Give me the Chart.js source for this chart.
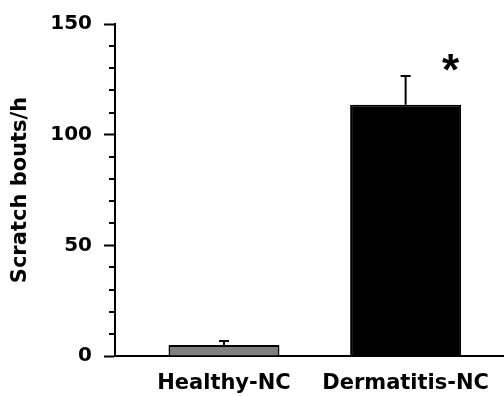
<!DOCTYPE html>
<html>
<head>
<meta charset="utf-8">
<script src="https://cdn.jsdelivr.net/npm/chart.js@4.4.1/dist/chart.umd.min.js"></script>
<style>
  html, body { margin: 0; padding: 0; background: #fff; }
  #wrap { width: 504px; height: 396px; }
</style>
</head>
<body>
<div id="wrap"><canvas id="chartCanvas" width="504" height="396"></canvas></div>
<script>
// values
const categories = ["Healthy-NC", "Dermatitis-NC"];
const meanValues = [5, 113.5];
const errorTops = [6.8, 126.5];
const barColors = ["#808080", "#000000"];
const signif = ["", "*"];
const yMajorTicks = [0, 50, 100, 150];
const yMinorTicks = [10, 20, 30, 40, 60, 70, 80, 90, 110, 120, 130, 140];

const FONT = "'DejaVu Sans', sans-serif";

// error bars, minor ticks and the asterisk
const extras = {
  id: "extras",
  afterDatasetsDraw(chart) {
    const ctx = chart.ctx;
    const y = chart.scales.y;
    const meta = chart.getDatasetMeta(0);
    ctx.save();
    ctx.strokeStyle = "#000";
    ctx.lineWidth = 2;
    meta.data.forEach((bar, i) => {
      const top = y.getPixelForValue(errorTops[i]);
      ctx.beginPath();
      ctx.moveTo(bar.x, bar.y);
      ctx.lineTo(bar.x, top);
      ctx.moveTo(bar.x - 5, top);
      ctx.lineTo(bar.x + 5, top);
      ctx.stroke();
      if (signif[i]) {
        ctx.fillStyle = "#000";
        ctx.font = "bold 44px 'Liberation Sans', Arial, sans-serif";
        ctx.textAlign = "center";
        ctx.textBaseline = "middle";
        ctx.fillText(signif[i], bar.x + 45, top - 3);
      }
    });
    // minor ticks on y axis
    const left = chart.chartArea.left;
    yMinorTicks.forEach(v => {
      const py = Math.round(y.getPixelForValue(v));
      ctx.beginPath();
      ctx.moveTo(left - 6, py);
      ctx.lineTo(left, py);
      ctx.stroke();
    });
    ctx.restore();
  }
};

new Chart(document.getElementById("chartCanvas"), {
  type: "bar",
  data: {
    datasets: [{
      data: categories.map((c, i) => ({ x: i, y: meanValues[i] })),
      backgroundColor: barColors,
      borderColor: "#000",
      borderWidth: 2,
      categoryPercentage: 1,
      barPercentage: 0.611
    }]
  },
  options: {
    responsive: false,
    animation: false,
    layout: { padding: { top: 22, right: 0, left: 0, bottom: 0 } },
    plugins: { legend: { display: false }, tooltip: { enabled: false } },
    scales: {
      x: {
        type: "linear",
        offset: false,
        min: -0.6,
        max: 1.54,
        afterBuildTicks: s => { s.ticks = categories.map((c, i) => ({ value: i })); },
        afterFit: s => { s.height = 40; },
        grid: { display: false, drawTicks: false },
        border: { display: true, color: "#000", width: 2 },
        ticks: {
          callback: v => categories[v],
          color: "#000",
          font: { family: FONT, size: 21, weight: "bold" },
          padding: 15,
          maxRotation: 0,
          autoSkip: false
        }
      },
      y: {
        min: 0,
        max: 150,
        afterBuildTicks: s => { s.ticks = yMajorTicks.map(v => ({ value: v })); },
        afterFit: s => { s.width = 115; },
        grid: { drawOnChartArea: false, drawTicks: true, tickLength: 11, tickColor: "#000", tickWidth: 2 },
        border: { display: true, color: "#000", width: 2 },
        ticks: {
          color: "#000",
          font: { family: FONT, size: 20, weight: "bold" },
          padding: 12
        },
        title: {
          display: true,
          text: "Scratch bouts/h",
          color: "#000",
          font: { family: FONT, size: 21, weight: "bold" },
          padding: { top: 8, bottom: 0 }
        }
      }
    }
  },
  plugins: [extras]
});
</script>
</body>
</html>
